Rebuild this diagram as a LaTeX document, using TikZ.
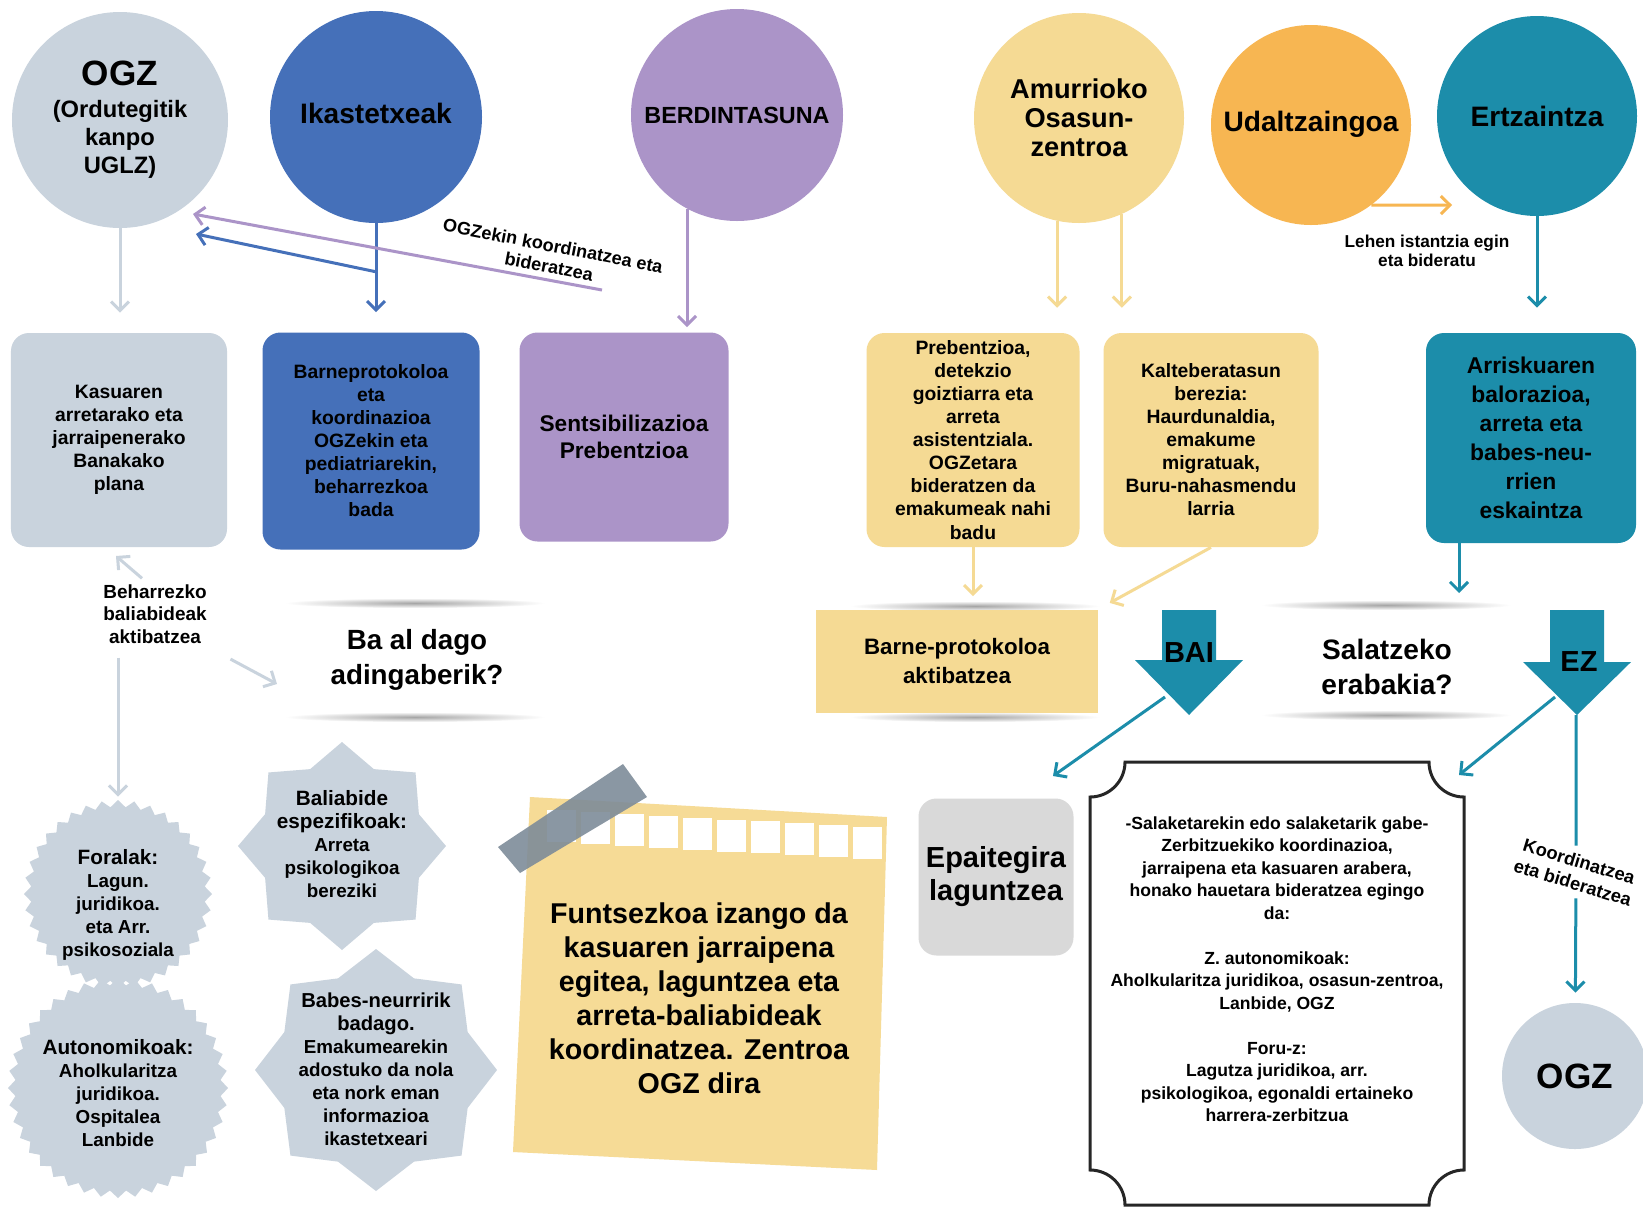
\documentclass[tikz,border=0pt]{standalone}
\usepackage{fontspec}
\setmainfont{Liberation Sans}
\usetikzlibrary{arrows.meta,shapes.geometric,calc}

\definecolor{ogzgray}{HTML}{C9D3DD}
\definecolor{ikasblue}{HTML}{4570B9}
\definecolor{berdpurple}{HTML}{AB94C8}
\definecolor{osayellow}{HTML}{F5DA94}
\definecolor{udalorange}{HTML}{F7B652}
\definecolor{ertzteal}{HTML}{1C8DAA}
\definecolor{epaigray}{HTML}{D9D9D9}
\definecolor{notefill}{HTML}{F6DB96}
\definecolor{tapegray}{HTML}{7E8C99}
\newcommand{\fsz}[2]{\fontsize{#1}{#2}\selectfont\bfseries}

\begin{document}
\begin{tikzpicture}[x=0.2mm, y=-0.2mm,
    disc/.style={circle, inner sep=0pt, align=center},
    card/.style={rounded corners=3.6mm, inner sep=0pt, align=center},
    badge/.style={star, fill=ogzgray, inner sep=0pt},
    flow/.style={line width=0.6mm, -{Straight Barb[length=1.8mm, width=3.6mm]}},
    wire/.style={line width=0.6mm},
    glow/.style={inner color=black!35, outer color=white}]

      % Canvas
      \fill[white] (0,0) rectangle (1643,1206);
      \useasboundingbox (0,0) rectangle (1643,1206);

      % Circles
      \node[disc, fill=ogzgray, minimum size=43.2mm, font=\fsz{13.5}{16}] (ogz) at (120,120)
        {\raisebox{-0.8mm}{\fsz{20}{24}OGZ}\\[2pt]\raisebox{-0.8mm}{(Ordutegitik}\\\raisebox{-0.8mm}{kanpo}\\\raisebox{-0.8mm}{UGLZ)}};
      \node[disc, fill=ikasblue, minimum size=42.4mm, font=\fsz{16}{19}] (ikas) at (376,117) {\raisebox{1.4mm}{Ikastetxeak}};
      \node[disc, fill=berdpurple, minimum size=42.4mm, font=\fsz{13.3}{16}] (berd) at (737,115) {BERDINTASUNA};
      \node[disc, fill=osayellow, minimum size=42mm, font=\fsz{15.5}{16.4}] (amur) at (1079,118) {Amurrioko\\Osasun-\\zentroa};
      \node[disc, fill=udalorange, minimum size=40mm, font=\fsz{16}{19}] (udal) at (1311,125) {\raisebox{1.4mm}{Udaltzaingoa}};
      \node[disc, fill=ertzteal, minimum size=40mm, font=\fsz{16}{19}] (ertz) at (1537,116) {Ertzaintza};

      % Boxes
      \node[card, fill=ogzgray, minimum width=43.2mm, minimum height=42.8mm, font=\fsz{11}{13.1}] (plan) at (119,440)
        {Kasuaren\\arretarako eta\\jarraipenerako\\Banakako\\plana};
      \node[card, fill=ikasblue, minimum width=43.4mm, minimum height=43.4mm, font=\fsz{11}{13.1}] (barne) at (371,441)
        {Barneprotokoloa\\eta\\koordinazioa\\OGZekin eta\\pediatriarekin,\\beharrezkoa\\bada};
      \node[card, fill=berdpurple, minimum width=41.8mm, minimum height=41.8mm, font=\fsz{12.9}{15.4}] (sents) at (624,437)
        {Sentsibilizazioa\\Prebentzioa};
      \node[card, fill=osayellow, minimum width=42.6mm, minimum height=42.8mm, font=\fsz{11}{13.1}] (preb) at (973,440)
        {Prebentzioa,\\detekzio\\goiztiarra eta\\arreta\\asistentziala.\\OGZetara\\bideratzen da\\emakumeak nahi\\badu};
      \node[card, fill=osayellow, minimum width=43mm, minimum height=42.8mm, font=\fsz{11}{13.1}] (kalte) at (1211,440)
        {Kalteberatasun\\berezia:\\Haurdunaldia,\\emakume\\migratuak,\\Buru-nahasmendu\\larria};
      \node[card, fill=ertzteal, minimum width=42mm, minimum height=42mm, font=\fsz{13}{16.5}] (arris) at (1531,438)
        {Arriskuaren\\balorazioa,\\arreta eta\\babes-neu-\\rrien\\eskaintza};

      % Shadows
      \shade[glow] (415,603) ellipse (130 and 5);
      \shade[glow] (415,717) ellipse (130 and 5);
      \shade[glow] (975,606) ellipse (125 and 5);
      \shade[glow] (975,717) ellipse (125 and 5);
      \shade[glow] (1386,605) ellipse (125 and 5);
      \shade[glow] (1386,715) ellipse (125 and 5);

      % Questions
      \node[fill=osayellow, minimum width=56.4mm, minimum height=20.6mm, align=center, font=\fsz{12.7}{16}] (bprot) at (957,661)
        {Barne-protokoloa\\aktibatzea};
      \node[align=center, font=\fsz{15.8}{20}] (adin) at (417,660) {Ba al dago\\adingaberik?};
      \node[align=center, font=\fsz{16}{20}] (salat) at (1387,667) {Salatzeko\\erabakia?};

      % Big arrows
      \fill[ertzteal] (1162,610) -- (1216,610) -- (1216,660) -- (1243,660) -- (1189,715) -- (1135,660) -- (1162,660) -- cycle;
      \fill[ertzteal] (1550,610) -- (1604,610) -- (1604,662) -- (1631,662) -- (1577,715) -- (1523,662) -- (1550,662) -- cycle;
      \node[font=\fsz{16.5}{19}] (bai) at (1189,653) {BAI};
      \node[font=\fsz{16.5}{19}] (ez) at (1579,662) {EZ};

      % Labels
      \node[align=center, rotate=-11, font=\fsz{10.3}{12}] (coordlab) at (551,256) {OGZekin koordinatzea eta\\bideratzea};
      \node[align=center, font=\fsz{9.8}{10.5}] (lehen) at (1427,251) {Lehen istantzia egin\\eta bideratu};
      \node[align=center, font=\fsz{10.8}{12.8}] (behar) at (155,614) {Beharrezko\\baliabideak\\aktibatzea};
      \node[align=center, rotate=-17, inner sep=4pt, font=\fsz{10.4}{12.6}] (koord) at (1576,872) {Koordinatzea\\eta bideratzea};

      % Stars
      \node[badge, star points=40, star point ratio=1.07, minimum size=44mm] (auton) at (118,1088) {};
      \node[badge, star points=36, star point ratio=1.08, minimum size=37.6mm] (foral) at (118,894) {};
      \node[badge, star points=8, star point ratio=1.25, minimum size=41.6mm] (balia) at (342,846) {};
      \node[badge, star points=8, star point ratio=1.22, minimum size=48.4mm] (babes) at (376,1070) {};
      \node[align=center, font=\fsz{10.7}{13.1}] (foraltxt) at (118,905)
        {{\fsz{11.8}{13.1}Foralak:}\\Lagun.\\juridikoa.\\eta Arr.\\psikosoziala};
      \node[align=center, font=\fsz{10.7}{13.1}] (autontxt) at (118,1093)
        {{\fsz{11.8}{13.1}Autonomikoak:}\\Aholkularitza\\juridikoa.\\Ospitalea\\Lanbide};
      \node[align=center, font=\fsz{10.7}{13.1}] (baliatxt) at (342,844)
        {{\fsz{11.8}{13.1}Baliabide}\\{\fsz{11.8}{13.1}espezifikoak:}\\Arreta\\psikologikoa\\bereziki};
      \node[align=center, font=\fsz{10.7}{13.1}] (babestxt) at (376,1069)
        {{\fsz{11.5}{13.1}Babes-neurririk}\\{\fsz{11.5}{13.1}badago.}\\Emakumearekin\\adostuko da nola\\eta nork eman\\informazioa\\ikastetxeari};

      % Note
      \fill[notefill] (530,797) -- (887,817) -- (877,1170) -- (513,1152) -- cycle;
      \foreach \i in {0,...,9}
        \fill[white] ({547+34*\i},{810+1.9*\i}) rectangle ++(29,32);
      \fill[tapegray, opacity=0.9] (498,847) -- (623,764) -- (647,797) -- (520,873) -- cycle;
      \node[align=center, font=\fsz{16.3}{19.4}] (note) at (699,998)
        {Funtsezkoa izango da\\kasuaren jarraipena\\egitea, laguntzea eta\\arreta-baliabideak\\koordinatzea. Zentroa\\OGZ dira};

      % Court and routes
      \node[card, fill=epaigray, minimum width=31mm, minimum height=31.4mm, font=\fsz{16.5}{18.8}] (epai) at (996,877)
        {Epaitegira\\laguntzea};
      \draw[line width=0.6mm, black!85, fill=white] (1090,797) arc (90:0:35) -- (1429,762) arc (180:90:35)
        -- (1464,1170) arc (270:180:35) -- (1125,1205) arc (0:-90:35) -- cycle;
      \node[align=center, font=\fsz{10}{12.8}] (routes) at (1277,969)
        {-Salaketarekin edo salaketarik gabe-\\Zerbitzuekiko koordinazioa,\\jarraipena eta kasuaren arabera,\\honako hauetara bideratzea egingo\\da:\\[12.8pt]
         Z. autonomikoak:\\Aholkularitza juridikoa, osasun-zentroa,\\Lanbide, OGZ\\[12.8pt]
         Foru-z:\\Lagutza juridikoa, arr.\\psikologikoa, egonaldi ertaineko\\harrera-zerbitzua};
      \node[disc, fill=ogzgray, minimum size=29.2mm, font=\fsz{20}{24}] (ogzb) at (1575,1076) {OGZ};

      % Arrow ends
      \coordinate (ikbr) at (377,272);
      \coordinate (ogzhitb) at (196,234);
      \coordinate (berdtail) at (602,290);
      \coordinate (ogzhitp) at (193,214);
      \coordinate (udalend) at (1452,205);
      \coordinate (arrisfoot) at (1459,543);
      \coordinate (salattop) at (1459,593);
      \coordinate (planfoot) at (116,556);
      \coordinate (adinarr) at (277,684);
      \coordinate (baiout) at (1165,697);
      \coordinate (epaiin) at (1053,776);
      \coordinate (ezout) at (1555,697);
      \coordinate (routesin) at (1459,775);
      \coordinate (eztip) at (1576,715);

      % Connectors
      \draw[flow, ogzgray, shorten >=4mm] (ogz.south) -- (ogz.south |- plan.north);
      \draw[flow, ikasblue, shorten >=4mm] (ikas.south) -- (ikas.south |- barne.north);
      \draw[flow, ikasblue] (ikbr) -- (ogzhitb);
      \draw[flow, berdpurple] (berdtail) -- (ogzhitp);
      \draw[flow, berdpurple, shorten >=1mm] (berd.242) -- (berd.242 |- sents.north);
      \draw[flow, osayellow, shorten >=5mm] (amur.258) -- (amur.258 |- preb.north);
      \draw[flow, osayellow, shorten >=5mm] (amur.294) -- (amur.294 |- kalte.north);
      \draw[flow, udalorange] (udal.307) -- (udalend);
      \draw[flow, ertzteal, shorten >=5mm] (ertz.south) -- (ertz.south |- arris.north);
      \draw[flow, osayellow, shorten >=2.6mm] (preb.south) -- (preb.south |- bprot.north);
      \draw[flow, osayellow, shorten >=2.6mm] (kalte.south) -- (bprot.north east);
      \draw[flow, ertzteal] (arrisfoot) -- (salattop);
      \draw[flow, ogzgray] (behar.110) -- (planfoot);
      \draw[flow, ogzgray, shorten <=4mm] (behar.south east) -- (adinarr);
      \draw[flow, ogzgray, shorten <=1.6mm, shorten >=0.6mm] (behar.south -| foral.north) -- (foral.north);
      \draw[flow, ertzteal] (baiout) -- (epaiin);
      \draw[flow, ertzteal] (ezout) -- (routesin);
      \draw[wire, ertzteal] (eztip) -- (koord);
      \draw[flow, ertzteal, shorten >=2mm] (koord) -- (ogzb);
    \end{tikzpicture}
\end{document}
